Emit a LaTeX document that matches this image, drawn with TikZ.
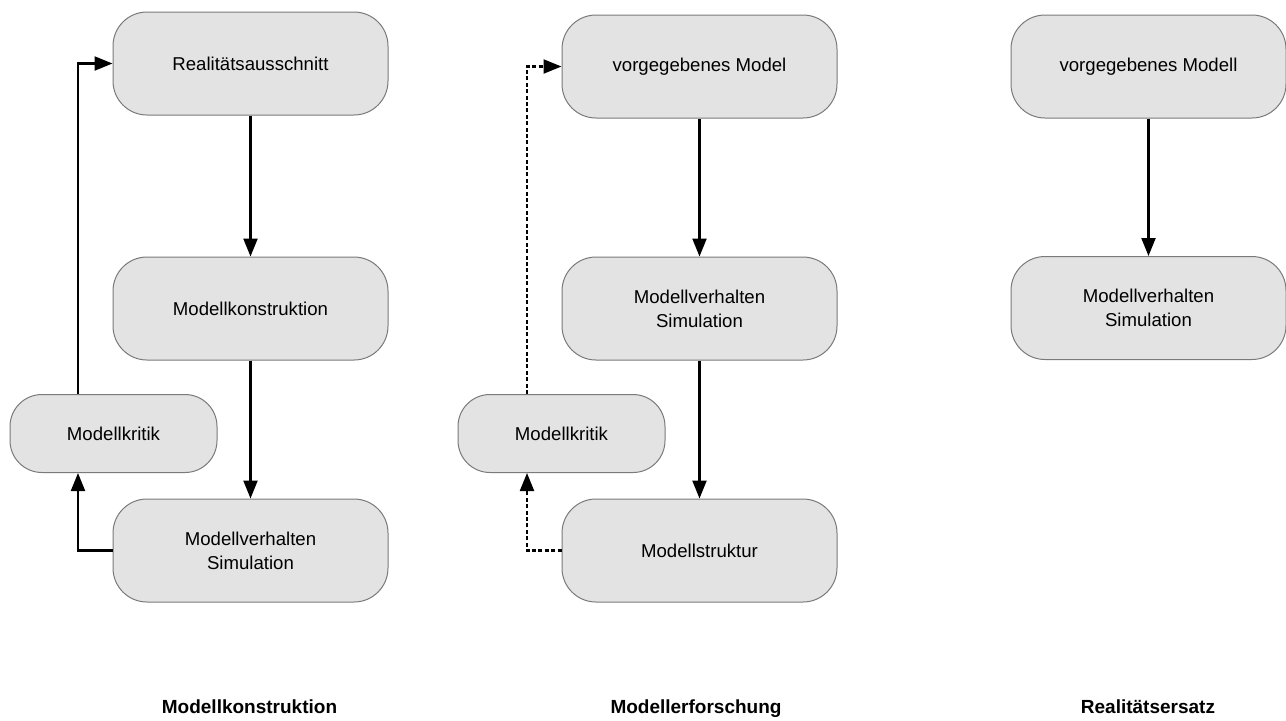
\documentclass[tikz,border=0pt]{standalone}
\usepackage{fontspec}
\setmainfont{Liberation Sans}
\usetikzlibrary{arrows.meta}
\definecolor{boxfill}{HTML}{E3E3E3}
\definecolor{boxline}{HTML}{7A7A7A}
\tikzset{
  bigbox/.style={draw=boxline, line width=0.5pt, fill=boxfill, rounded corners=17pt,
    minimum width=137.5pt, minimum height=51.5pt, inner sep=0pt, align=center,
    font=\fontsize{9.3pt}{12pt}\selectfont},
  critbox/.style={draw=boxline, line width=0.5pt, fill=boxfill, rounded corners=16pt,
    minimum width=103.5pt, minimum height=39pt, inner sep=0pt, align=center,
    font=\fontsize{9.3pt}{12pt}\selectfont},
  flow/.style={line width=1.1pt, -{Triangle[length=9pt,width=7pt]}},
  dflow/.style={flow, dash pattern=on 2pt off 1.2pt},
  caption/.style={font=\bfseries\fontsize{9.5pt}{12pt}\selectfont, anchor=base, inner sep=0pt}
}
\begin{document}
\begin{tikzpicture}[x=0.5pt, y=-0.5pt]
\useasboundingbox (0,0) rectangle (1286,720);
% column 1
\node[bigbox] (a1) at (250.5,63.5) {Realitätsausschnitt};
\node[bigbox] (a2) at (250.5,308.5) {Modellkonstruktion};
\node[bigbox] (a3) at (250.5,550.5) {Modellverhalten\\Simulation};
\node[critbox] (ak) at (113.5,433.5) {Modellkritik};
\coordinate (akb) at ([xshift=-17.75pt]ak.south);
\coordinate (akt) at ([xshift=-17.75pt]ak.north);
\draw[flow] (a1) -- (a2);
\draw[flow] (a2) -- (a3);
\draw[flow] (a3.west) -| (akb);
\draw[flow] (akt) |- (a1.west);
\node[caption] (c1) at (249.5,713) {Modellkonstruktion};
% column 2
\node[bigbox] (b1) at (699.5,66.5) {vorgegebenes Model};
\node[bigbox] (b2) at (699.5,308.5) {Modellverhalten\\Simulation};
\node[bigbox] (b3) at (699.5,550.5) {Modellstruktur};
\node[critbox] (bk) at (561.5,433.5) {Modellkritik};
\coordinate (bkb) at ([xshift=-17.25pt]bk.south);
\coordinate (bkt) at ([xshift=-17.25pt]bk.north);
\draw[flow] (b1) -- (b2);
\draw[flow] (b2) -- (b3);
\draw[dflow] (b3.west) -| (bkb);
\draw[dflow] (bkt) |- (b1.west);
\node[caption] (c2) at (696,713) {Modellerforschung};
% column 3
\node[bigbox] (d1) at (1148.5,66.5) {vorgegebenes Modell};
\node[bigbox] (d2) at (1148.5,308) {Modellverhalten\\Simulation};
\draw[flow] (d1) -- (d2);
\node[caption] (c3) at (1148,713) {Realitätsersatz};
\end{tikzpicture}
\end{document}
